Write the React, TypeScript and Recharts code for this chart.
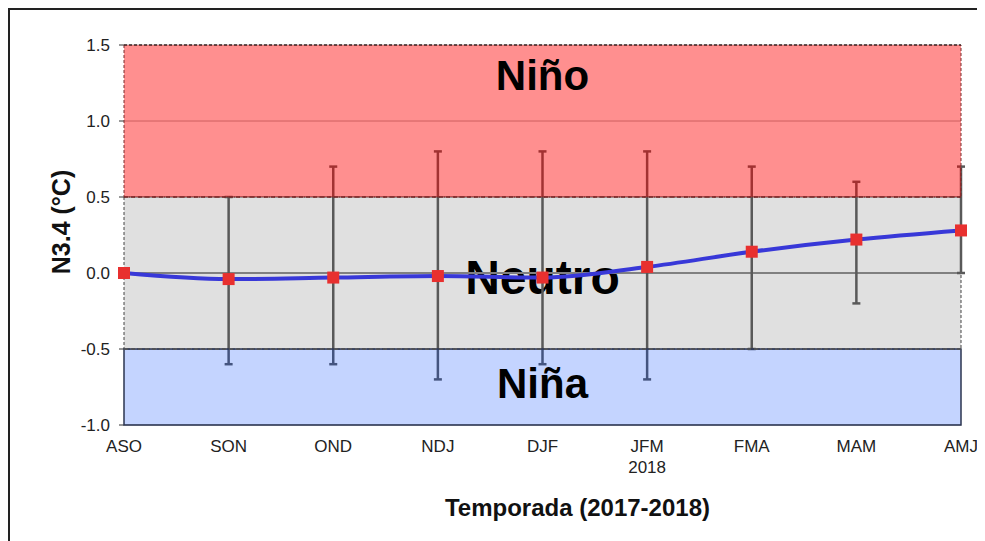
import {
  ComposedChart,
  Line,
  ErrorBar,
  XAxis,
  YAxis,
  CartesianGrid,
  ReferenceArea,
  ReferenceLine,
} from 'recharts';

const seasons = ['ASO', 'SON', 'OND', 'NDJ', 'DJF', 'JFM', 'FMA', 'MAM', 'AMJ'];
const subLabels = ['', '', '', '', '', '2018', '', '', ''];
const n34 = [0.0, -0.04, -0.03, -0.02, -0.03, 0.04, 0.14, 0.22, 0.28];
const rangeHigh = [null, 0.5, 0.7, 0.8, 0.8, 0.8, 0.7, 0.6, 0.7];
const rangeLow = [null, -0.6, -0.6, -0.7, -0.6, -0.7, -0.5, -0.2, 0.0];
const yTicks = [-1.0, -0.5, 0.0, 0.5, 1.0, 1.5];

const data = seasons.map((season, i) => {
  const hi = rangeHigh[i];
  const lo = rangeLow[i];
  return {
    season,
    value: n34[i],
    err: hi == null || lo == null ? [0, 0] : [n34[i] - lo, hi - n34[i]],
  };
});

const font = 'Arial, "Liberation Sans", sans-serif';
const W = 977;
const H = 533;
const margin = { top: 37, right: 24, left: 0, bottom: 0 };

function SeasonTick(props: any) {
  const { x, y, payload } = props;
  const sub = subLabels[payload.index] ?? '';
  return (
    <g>
      <text x={x} y={y + 27} textAnchor="middle" fontSize={17} fill="#222" fontFamily={font}>
        {payload.value}
      </text>
      {sub && (
        <text x={x} y={y + 48} textAnchor="middle" fontSize={17} fill="#222" fontFamily={font}>
          {sub}
        </text>
      )}
    </g>
  );
}

function SquareDot(props: any) {
  const { cx, cy, index } = props;
  if (cx == null || cy == null) return <g key={index} />;
  return <rect key={index} x={cx - 6} y={cy - 6} width={12} height={12} fill="#e8302f" />;
}

function bandLabel(text: string, dy: number, size = 42) {
  return (props: any) => {
    const vb = props.viewBox;
    return (
      <text
        x={vb.x + vb.width / 2}
        y={vb.y + dy}
        dy="0.36em"
        textAnchor="middle"
        fontSize={size}
        fontWeight="bold"
        fill="#000"
        fontFamily={font}
      >
        {text}
      </text>
    );
  };
}

// Axes shared by the base chart and the transparent overlay, so both get the same plot box
function axes(showTicks: boolean) {
  return [
    <XAxis
      key="x"
      dataKey="season"
      scale="point"
      padding={{ left: 0, right: 0 }}
      height={116}
      axisLine={false}
      tickLine={false}
      tickSize={0}
      tickMargin={0}
      interval={0}
      tick={showTicks ? <SeasonTick /> : false}
      label={
        showTicks
          ? (props: any) => {
              const vb = props.viewBox;
              return (
                <text
                  x={vb.x + vb.width / 2 + 35}
                  y={vb.y + 91}
                  textAnchor="middle"
                  fontSize={24}
                  fontWeight="bold"
                  fill="#111"
                  fontFamily={font}
                >
                  Temporada (2017-2018)
                </text>
              );
            }
          : undefined
      }
    />,
    <YAxis
      key="y"
      type="number"
      domain={[-1, 1.5]}
      ticks={yTicks}
      width={116}
      axisLine={false}
      tickSize={5}
      tickMargin={9}
      tickLine={showTicks ? { stroke: '#333' } : false}
      tickFormatter={(v: number) => v.toFixed(1)}
      tick={showTicks ? { fontSize: 17, fill: '#222', fontFamily: font } : false}
      label={
        showTicks
          ? (props: any) => {
              const vb = props.viewBox;
              const cx = 53;
              const cy = vb.y + vb.height / 2 - 13;
              return (
                <text
                  x={cx}
                  y={cy}
                  transform={`rotate(-90 ${cx} ${cy})`}
                  dy="0.36em"
                  textAnchor="middle"
                  fontSize={25}
                  fontWeight="bold"
                  fill="#111"
                  fontFamily={font}
                >
                  N3.4 (°C)
                </text>
              );
            }
          : undefined
      }
    />,
  ];
}

export default function App() {
  return (
    <div style={{ position: 'relative', width: W, height: H }}>
      <style>{'html,body{overflow:hidden}'}</style>
      <div style={{ position: 'absolute', left: 0, top: 0 }}>
        <ComposedChart width={W} height={H} data={data} margin={margin}>
          <CartesianGrid vertical={false} stroke="#a8a8a8" strokeWidth={1} />
          <ReferenceArea
            y1={-0.5}
            y2={0.5}
            fill="#e0e0e0"
            fillOpacity={1}
            stroke="#444"
            strokeDasharray="3 2"
            label={bandLabel('Neutro', 80, 48)}
          />
          <ReferenceLine y={0} stroke="#808080" strokeWidth={2} />
          {axes(true)}
          <Line
            type="monotone"
            dataKey="value"
            stroke="#3838d8"
            strokeWidth={4}
            dot={<SquareDot />}
            activeDot={false}
            isAnimationActive={false}
          >
            <ErrorBar dataKey="err" direction="y" stroke="#595959" strokeWidth={2.5} width={4} />
          </Line>
        </ComposedChart>
      </div>
      <div style={{ position: 'absolute', left: 0, top: 0, pointerEvents: 'none' }}>
        <ComposedChart width={W} height={H} data={data} margin={margin}>
          {axes(false)}
          {/* invisible series so the overlay gets the same category scale */}
          <Line
            dataKey="value"
            stroke="transparent"
            dot={false}
            activeDot={false}
            isAnimationActive={false}
          />
          <ReferenceArea
            y1={0.5}
            y2={1.5}
            fill="#ff0000"
            fillOpacity={0.44}
            stroke="#7a2a2a"
            strokeDasharray="3 2"
            label={bandLabel('Niño', 30)}
          />
          <ReferenceArea
            y1={-1}
            y2={-0.5}
            fill="#0046ff"
            fillOpacity={0.23}
            stroke="#2b3550"
            strokeWidth={1.5}
            label={bandLabel('Niña', 34)}
          />
          <ReferenceLine y={1.5} stroke="#222" strokeDasharray="3 2" />
          <ReferenceLine y={0.5} stroke="#7a2a2a" strokeWidth={1.5} strokeDasharray="4 3" />
          <ReferenceLine y={-0.5} stroke="#555" strokeWidth={1.5} strokeDasharray="4 3" />
        </ComposedChart>
      </div>
      <div
        style={{
          position: 'absolute',
          left: 0,
          top: 0,
          width: W,
          height: H,
          borderTop: '2px solid #222',
          borderLeft: '2px solid #222',
          boxSizing: 'border-box',
          pointerEvents: 'none',
        }}
      />
    </div>
  );
}
